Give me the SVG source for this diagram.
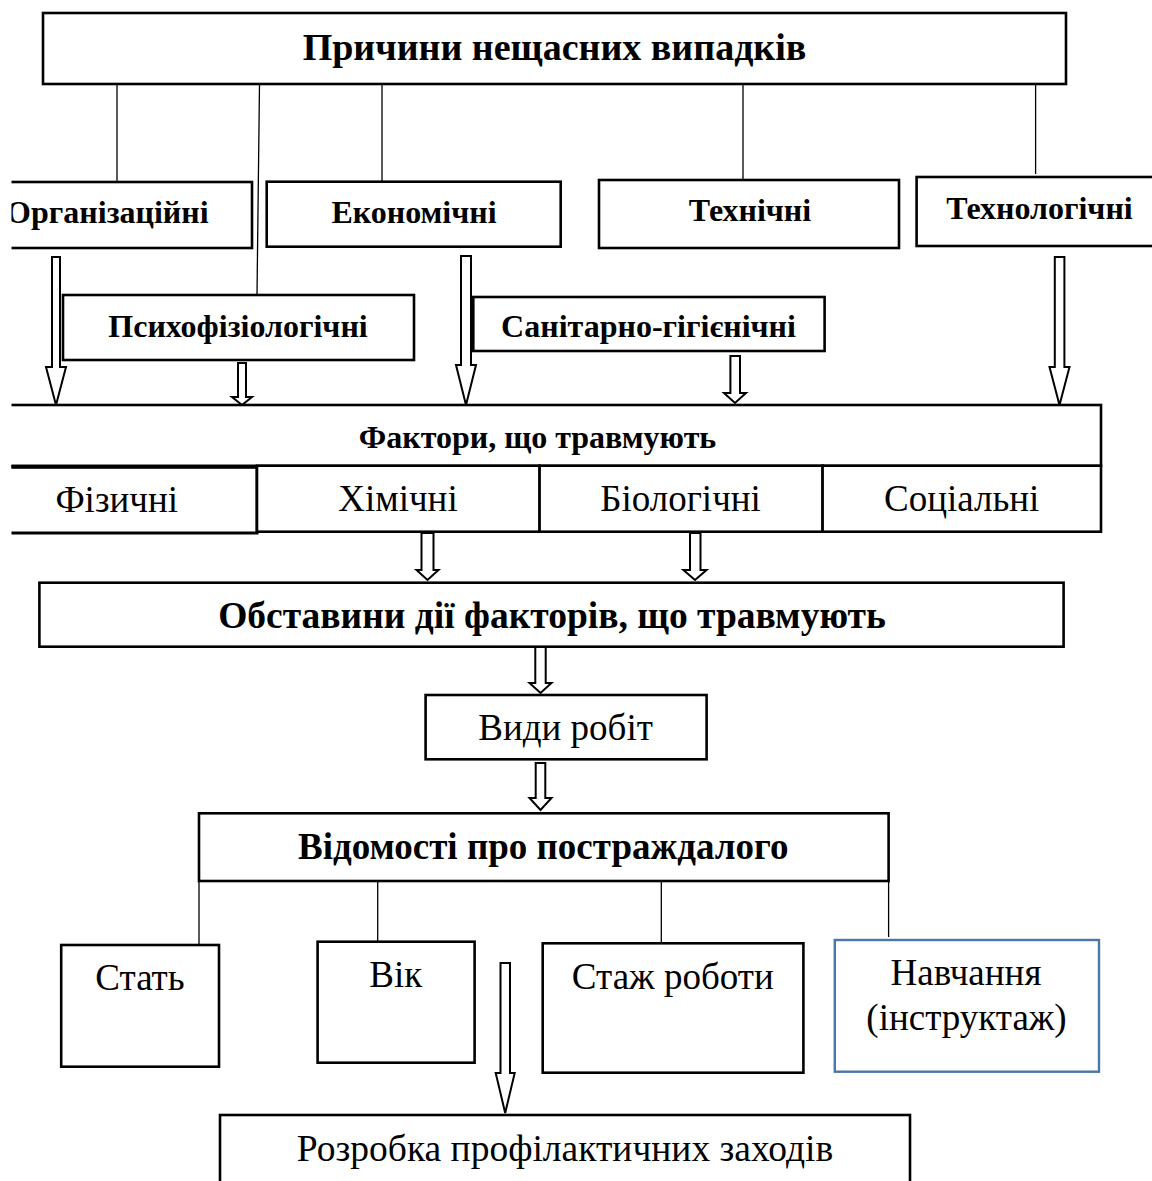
<svg xmlns="http://www.w3.org/2000/svg" width="1152" height="1181" viewBox="0 0 1152 1181">
<style>
.box{fill:#fff;stroke:#000;stroke-width:2.6}
.blue{fill:#fff;stroke:#4a76a8;stroke-width:2.4}
.b{font-family:"Liberation Serif","Times New Roman",serif;font-weight:bold;text-anchor:middle;fill:#000}
.r{font-family:"Liberation Serif","Times New Roman",serif;text-anchor:middle;fill:#000}
.conn{stroke:#000;stroke-width:1.3;fill:none}
.arr{fill:#fff;stroke:#000;stroke-width:2;stroke-linejoin:miter}
</style>
<defs>
<clipPath id="frame"><rect x="11.5" y="0" width="1141" height="1181"/></clipPath>
</defs>
<rect width="1152" height="1181" fill="#fff"/>
<g clip-path="url(#frame)">
<g id="connectors">
<line class="conn" x1="117" y1="84" x2="117" y2="182"/>
<line class="conn" x1="259.5" y1="84" x2="257" y2="295"/>
<line class="conn" x1="382" y1="84" x2="382" y2="181"/>
<line class="conn" x1="743" y1="84" x2="743" y2="180"/>
<line class="conn" x1="1035.6" y1="84" x2="1035.6" y2="174"/>
<line class="conn" x1="199" y1="881" x2="199" y2="944"/>
<line class="conn" x1="377.7" y1="881" x2="377.7" y2="941"/>
<line class="conn" x1="661.3" y1="881" x2="661.3" y2="943"/>
<line class="conn" x1="888.6" y1="881" x2="888.6" y2="937"/>
<polygon class="arr" points="52,257 60,257 60,367 66,367 56,405 46,367 52,367"/>
<polygon class="arr" points="238,363 246,363 246,397 252,397 242,405 232,397 238,397"/>
<polygon class="arr" points="461,256 471,256 471,365 476,365 466,405 456,365 461,365"/>
<polygon class="arr" points="730.4,356 740,356 740,393 746,393 735,403 724,393 730.4,393"/>
<polygon class="arr" points="1054.8,257 1064.4,257 1064.4,367 1069.5,367 1059.5,405 1049.5,367 1054.8,367"/>
<polygon class="arr" points="421.5,533 433.5,533 433.5,570 438.5,570 427.5,580 416.5,570 421.5,570"/>
<polygon class="arr" points="690,533 700.5,533 700.5,570 706.6,570 695,580 683.4,570 690,570"/>
<polygon class="arr" points="535.3,647 545.7,647 545.7,683 551.5,683 540.5,693 529.5,683 535.3,683"/>
<polygon class="arr" points="535.7,763 545.3,763 545.3,798 551.5,798 540.5,810 529.5,798 535.7,798"/>
<polygon class="arr" points="500.5,963 510,963 510,1073 514.7,1073 505.2,1113 495.7,1073 500.5,1073"/>
</g>
<g id="n-prychyny">
<rect class="box" x="43" y="13" width="1023" height="71"/>
<text class="b" x="554.5" y="60" font-size="38">Причини нещасних випадків</text>
</g>
<g id="n-organiz">
<rect class="box" x="2" y="182" width="250" height="66"/>
<text class="b" x="208.6" y="223" font-size="32" style="text-anchor:end">Організаційні</text>
</g>
<g id="n-ekonom">
<rect class="box" x="266.7" y="181.7" width="294" height="65"/>
<text class="b" x="414" y="223" font-size="32">Економічні</text>
</g>
<g id="n-tekhn">
<rect class="box" x="599" y="180" width="300" height="68"/>
<text class="b" x="750" y="221" font-size="32">Технічні</text>
</g>
<g id="n-tekhnol">
<rect class="box" x="916.6" y="177" width="250" height="69"/>
<text class="b" x="1039.5" y="219" font-size="32">Технологічні</text>
</g>
<g id="n-psykho">
<rect class="box" x="63" y="295" width="351" height="65"/>
<text class="b" x="238" y="337" font-size="32">Психофізіологічні</text>
</g>
<g id="n-sanit">
<rect class="box" x="472.6" y="297" width="352" height="54"/>
<line x1="472.6" y1="297" x2="472.6" y2="351" stroke="#000" stroke-width="4"/>
<text class="b" x="648.5" y="337" font-size="32">Санітарно-гігієнічні</text>
</g>
<g id="n-faktory">
<rect class="box" x="2" y="405" width="1099" height="61"/>
<text class="b" x="537.5" y="448" font-size="32">Фактори, що травмують</text>
</g>
<g id="n-fizychni">
<rect class="box" x="2" y="466.7" width="255" height="66.3" style="stroke-width:3"/>
<line x1="2" y1="466.7" x2="257" y2="466.7" stroke="#000" stroke-width="4"/>
<text class="r" x="116.7" y="511.5" font-size="37">Фізичні</text>
</g>
<g id="n-khimichni">
<rect class="box" x="257" y="465.7" width="282.6" height="66"/>
<text class="r" x="398" y="511" font-size="37">Хімічні</text>
</g>
<g id="n-biolog">
<rect class="box" x="539.6" y="465.7" width="283" height="66"/>
<text class="r" x="680.5" y="511" font-size="37">Біологічні</text>
</g>
<g id="n-sotsial">
<rect class="box" x="822.6" y="465.7" width="278.4" height="66"/>
<text class="r" x="961.7" y="511" font-size="37">Соціальні</text>
</g>
<g id="n-obstavyny">
<rect class="box" x="39.4" y="582.7" width="1024.2" height="64"/>
<text class="b" x="552" y="628.3" font-size="37.5">Обставини дії факторів, що травмують</text>
</g>
<g id="n-vydy">
<rect class="box" x="425.6" y="695" width="281" height="64.3"/>
<text class="r" x="565.6" y="740" font-size="37">Види робіт</text>
</g>
<g id="n-vidomosti">
<rect class="box" x="199" y="813.3" width="689.6" height="67.7"/>
<text class="b" x="543.3" y="859.3" font-size="37">Відомості про постраждалого</text>
</g>
<g id="n-stat">
<rect class="box" x="61.2" y="945" width="157.8" height="121.7"/>
<text class="r" x="140" y="990" font-size="37">Стать</text>
</g>
<g id="n-vik">
<rect class="box" x="317.6" y="941.7" width="157" height="121"/>
<text class="r" x="395.7" y="987.3" font-size="37">Вік</text>
</g>
<g id="n-stazh">
<rect class="box" x="542.7" y="943.3" width="260.7" height="129.4"/>
<text class="r" x="672.8" y="989.3" font-size="37">Стаж роботи</text>
</g>
<g id="n-navchannya">
<rect class="blue" x="834.8" y="940" width="264.2" height="131.7"/>
<text class="r" x="966" y="985" font-size="37">Навчання</text>
<text class="r" x="966.5" y="1030" font-size="37">(інструктаж)</text>
</g>
<g id="n-rozrobka">
<rect class="box" x="220" y="1115" width="690" height="80"/>
<text class="r" x="565" y="1161" font-size="37.5">Розробка профілактичних заходів</text>
</g>
</g>
</svg>
